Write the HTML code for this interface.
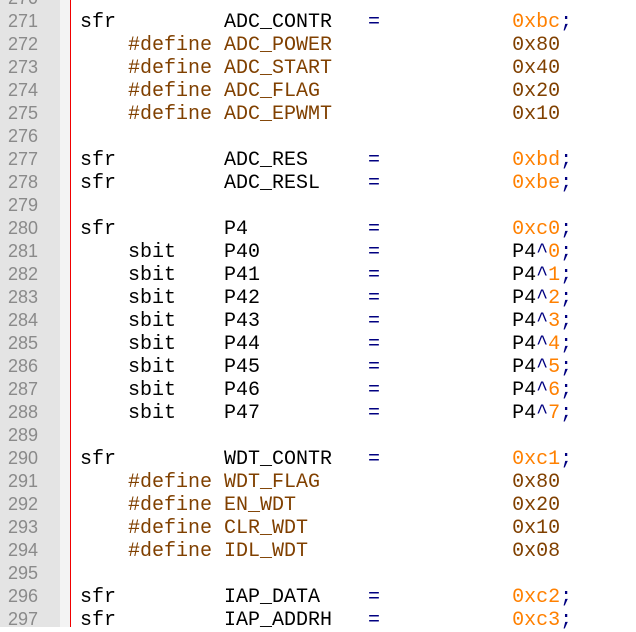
<!DOCTYPE html>
<html><head><style>
body{margin:0;width:636px;height:627px;overflow:hidden;background:#fff;position:relative}
#g{position:absolute;left:0;top:0;width:60px;height:627px;background:#e4e4e4}
#f{position:absolute;left:60px;top:0;width:10px;height:627px;background:#f3f3f3}
#r{position:absolute;left:70px;top:0;width:1px;height:627px;background:#f00000}
.l{position:absolute;left:0;height:23px;line-height:23px;white-space:pre}
.n{position:absolute;left:8px;width:40px;font:18px "Liberation Sans",sans-serif;color:#8a8a8a}
.c{position:absolute;left:80px;font:20px "Liberation Mono",monospace;color:#000;letter-spacing:0}
.p{color:#804000}.o{color:#000080}.h{color:#ff8000}
</style></head><body>
<div id="g"></div><div id="f"></div><div id="r"></div>
<div id="t"></div>
<script>
const L=[
["270",""],
["271",'sfr         ADC_CONTR   <b class=o>=</b>           <b class=h>0xbc</b><b class=o>;</b>'],
["272",'    <span class=p>#define ADC_POWER               0x80</span>'],
["273",'    <span class=p>#define ADC_START               0x40</span>'],
["274",'    <span class=p>#define ADC_FLAG                0x20</span>'],
["275",'    <span class=p>#define ADC_EPWMT               0x10</span>'],
["276",''],
["277",'sfr         ADC_RES     <b class=o>=</b>           <b class=h>0xbd</b><b class=o>;</b>'],
["278",'sfr         ADC_RESL    <b class=o>=</b>           <b class=h>0xbe</b><b class=o>;</b>'],
["279",''],
["280",'sfr         P4          <b class=o>=</b>           <b class=h>0xc0</b><b class=o>;</b>'],
];
for(let i=0;i<8;i++)L.push([String(281+i),'    sbit    P4'+i+'         <b class=o>=</b>           P4<b class=o>^</b><b class=h>'+i+'</b><b class=o>;</b>']);
L.push(["289",''],
["290",'sfr         WDT_CONTR   <b class=o>=</b>           <b class=h>0xc1</b><b class=o>;</b>'],
["291",'    <span class=p>#define WDT_FLAG                0x80</span>'],
["292",'    <span class=p>#define EN_WDT                  0x20</span>'],
["293",'    <span class=p>#define CLR_WDT                 0x10</span>'],
["294",'    <span class=p>#define IDL_WDT                 0x08</span>'],
["295",''],
["296",'sfr         IAP_DATA    <b class=o>=</b>           <b class=h>0xc2</b><b class=o>;</b>'],
["297",'sfr         IAP_ADDRH   <b class=o>=</b>           <b class=h>0xc3</b><b class=o>;</b>']);
let h='';
L.forEach((x,i)=>{const y=-12+i*23;h+=`<div class=l style="top:${y}px"><span class=n>${x[0]}</span><span class=c>${x[1].replace(/<b class=h>/g,'<span class=h>').replace(/<\/b>/g,'</span>').replace(/<b class=o>/g,'<span class=o>')}</span></div>`});
document.getElementById('t').innerHTML=h;
</script>
</body></html>
